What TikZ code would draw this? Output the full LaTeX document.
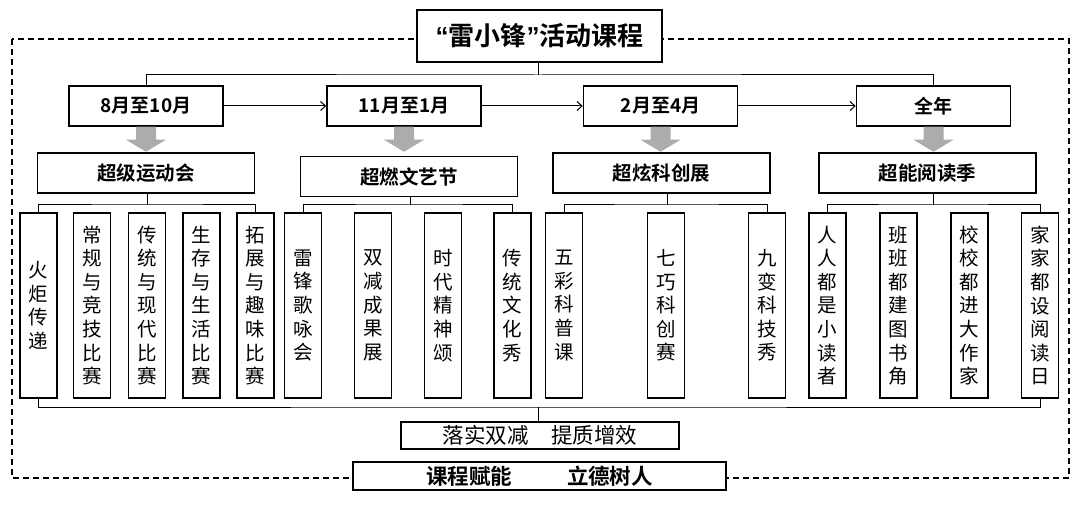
\documentclass[tikz,border=0pt]{standalone}
\usepackage{fontspec}
\setmainfont{Noto Sans CJK SC}[BoldFont={Noto Sans CJK SC Bold}]
\newfontfamily\latinfont{Liberation Sans}
\usetikzlibrary{arrows.meta}
\lineskiplimit=-100pt

\tikzset{
    box/.style={draw, line width=1.5pt, fill=white, inner sep=0pt},
    month/.style={box, minimum width=154, minimum height=40, font=\fontsize{19}{22}\selectfont\bfseries},
    activity/.style={box, minimum width=217, minimum height=40, font=\fontsize{19.5}{22}\selectfont\bfseries},
    item/.style={box, minimum width=37, minimum height=185, align=center, font=\fontsize{19.5}{23.6}\selectfont},
    link/.style={line width=1pt},
    garrow/.style={fill=gray!65},
}

\begin{document}
\begin{tikzpicture}[x=1pt, y=-1pt]
    \useasboundingbox (0,0) rectangle (1080,505);

    % outer frame
    \draw[line width=1.3pt, dash pattern=on 6pt off 4pt] (12,39) rectangle (1069,478);

    \node[box, minimum width=245, minimum height=52, font=\fontsize{26}{30}\selectfont\bfseries] (title) at (539.5,36)
        {{\latinfont\bfseries “}雷小锋{\latinfont\bfseries ”}活动课程};

    \node[month] (m1) at (146,106)   {8月至10月};
    \node[month] (m2) at (404,106)   {11月至1月};
    \node[month] (m3) at (660.5,106) {2月至4月};
    \node[month] (m4) at (933.5,106) {全年};

    \node[activity] (a1) at (146,173)   {超级运动会};
    \node[activity] (a2) at (409,176.5) {超燃文艺节};
    \node[activity] (a3) at (661.5,173) {超炫科创展};
    \node[activity] (a4) at (927.5,173) {超能阅读季};

    \foreach \x/\t [count=\n] in {38.5/{火\\炬\\传\\递}, 92/{常\\规\\与\\竞\\技\\比\\赛},
        147/{传\\统\\与\\现\\代\\比\\赛}, 201.5/{生\\存\\与\\生\\活\\比\\赛}, 255.5/{拓\\展\\与\\趣\\味\\比\\赛}}
    {
        \node[item] (i\n) at (\x,305.5) {\t};
    }
    \foreach \x/\t [count=\n] in {303/{雷\\锋\\歌\\咏\\会}, 373/{双\\减\\成\\果\\展},
        443/{时\\代\\精\\神\\颂}, 512.5/{传\\统\\文\\化\\秀}}
    {
        \node[item] (j\n) at (\x,305.5) {\t};
    }
    \foreach \x/\t [count=\n] in {564/{五\\彩\\科\\普\\课}, 666/{七\\巧\\科\\创\\赛}, 767/{九\\变\\科\\技\\秀}}
    {
        \node[item] (k\n) at (\x,305.5) {\t};
    }
    \foreach \x/\t [count=\n] in {827.5/{人\\人\\都\\是\\小\\读\\者}, 898.5/{班\\班\\都\\建\\图\\书\\角},
        969.5/{校\\校\\都\\进\\大\\作\\家}, 1040/{家\\家\\都\\设\\阅\\读\\日}}
    {
        \node[item] (l\n) at (\x,305.5) {\t};
    }

    \node[box, minimum width=278, minimum height=27, font=\fontsize{21.5}{24}\selectfont] (aim) at (540,435.5)
        {落实双减\hspace{23pt}提质增效};
    \node[box, minimum width=373, minimum height=28, font=\fontsize{21.5}{24}\selectfont\bfseries] (goal) at (539.5,476)
        {课程赋能\hspace{55pt}立德树人};

    % top bracket
    \coordinate (top) at (538,75);
    \draw[link] (title.south -| top) -- (top);
    \draw[link] (m1.north) |- (top) -| (m4.north);

    % months
    \draw[link, -{Straight Barb[length=5pt, width=9pt]}] (m1) -- (m2);
    \draw[link, -{Straight Barb[length=5pt, width=9pt]}] (m2) -- (m3);
    \draw[link, -{Straight Barb[length=5pt, width=9pt]}] (m3) -- (m4);

    \foreach \m in {m1,m2,m3,m4}
    {
        \fill[garrow] (\m.south) ++(-10,0) -- ++(0,13) -- ++(-10,0) -- ++(20,12)
            -- ++(20,-12) -- ++(-10,0) -- ++(0,-13) -- cycle;
    }

    % item brackets
    \coordinate (g1) at (147.6,205);
    \coordinate (g2) at (410,205);
    \coordinate (g3) at (667,205);
    \coordinate (g4) at (933,205);
    \draw[link] (a1.south -| g1) -- (g1);
    \draw[link] (a2.south -| g2) -- (g2);
    \draw[link] (a3.south -| g3) -- (g3);
    \draw[link] (a4.south -| g4) -- (g4);
    \draw[link] (i1.north) |- (g1) -| (i5.north);
    \draw[link] (j1.north) |- (g2) -| (j4.north);
    \draw[link] (k1.north) |- (g3) -| (k3.north);
    \draw[link] (l1.north) |- (g4) -| (l4.north);

    % bottom bracket
    \coordinate (bot) at (538,407);
    \draw[link] (i1.south) |- (bot) -| (l4.south);
    \draw[link] (bot) -- (aim.north -| bot);
\end{tikzpicture}
\end{document}
